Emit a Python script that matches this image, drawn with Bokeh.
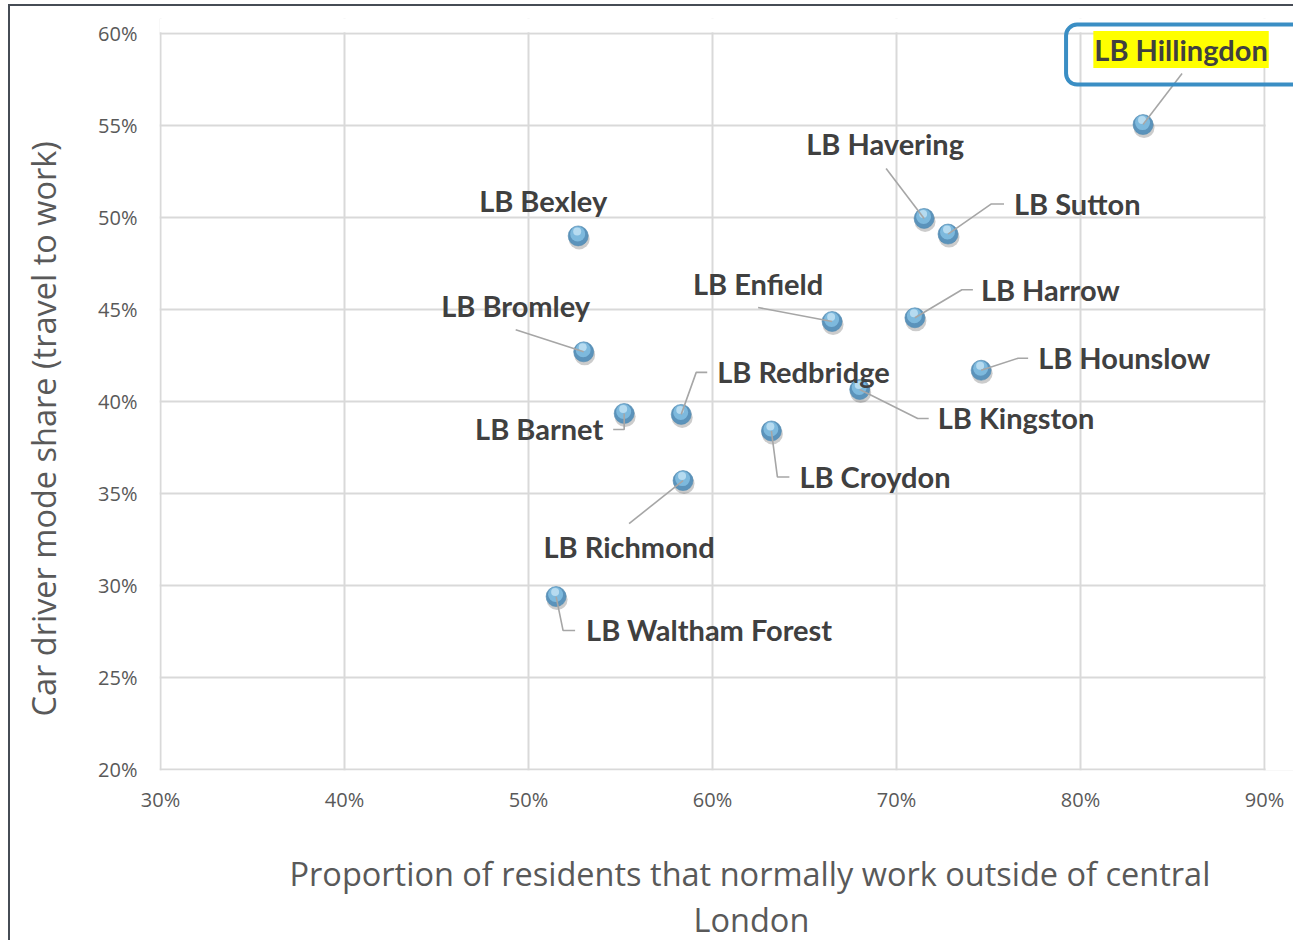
from bokeh.plotting import figure
from bokeh.models import (ColumnDataSource, PrintfTickFormatter, Label, BoxAnnotation,
                          Range1d, Title)
from bokeh.core.properties import value, field
from bokeh.embed import file_html
from bokeh.resources import INLINE

# ---------------- data ----------------
boroughs = ["LB Hillingdon", "LB Havering", "LB Sutton", "LB Bexley", "LB Enfield",
            "LB Harrow", "LB Bromley", "LB Hounslow", "LB Kingston", "LB Barnet",
            "LB Redbridge", "LB Croydon", "LB Richmond", "LB Waltham Forest"]
outside_central = [83.4, 71.5, 72.8, 52.7, 66.5, 71.0, 53.0, 74.6, 68.0, 55.2,
                   58.3, 63.2, 58.4, 51.5]
car_driver_share = [55.05, 49.95, 49.1, 49.0, 44.35, 44.55, 42.7, 41.7, 40.65, 39.35,
                    39.3, 38.4, 35.7, 29.4]
x_ticks = [30, 40, 50, 60, 70, 80, 90]
y_ticks = [20, 25, 30, 35, 40, 45, 50, 55, 60]
x_title_lines = ["Proportion of residents that normally work outside of central", "London"]
y_title = "Car driver mode share (travel to work)"
highlighted = "LB Hillingdon"

# ---------------- label layout (pixel offsets from each point) ----------------
label_layout = {
    "LB Hillingdon":     (38, -73, "center"),
    "LB Havering":       (-39, -73, "center"),
    "LB Sutton":         (66, -29, "left"),
    "LB Bexley":         (-35, -33, "center"),
    "LB Enfield":        (-74, -36, "center"),
    "LB Harrow":         (66, -26, "left"),
    "LB Bromley":        (-68, -44, "center"),
    "LB Hounslow":       (57, -11, "left"),
    "LB Kingston":       (78, 30, "left"),
    "LB Barnet":         (-21, 17, "right"),
    "LB Redbridge":      (36, -41, "left"),
    "LB Croydon":        (28, 48, "left"),
    "LB Richmond":       (-54, 68, "center"),
    "LB Waltham Forest": (30, 35, "left"),
}
LABEL_DY_ADJ = -2
leader_layout = {
    "LB Hillingdon":     [(39, -51), (0, 0)],
    "LB Havering":       [(-38, -50), (0, 0)],
    "LB Sutton":         [(56, -30), (43, -30), (0, 0)],
    "LB Enfield":        [(-74, -14), (0, 0)],
    "LB Harrow":         [(58, -28), (47, -28), (0, 0)],
    "LB Bromley":        [(-68, -22), (0, 0)],
    "LB Hounslow":       [(47, -12), (37, -12), (0, 0)],
    "LB Kingston":       [(69, 29), (58, 29), (0, 0)],
    "LB Barnet":         [(-11, 16), (0, 16), (0, 0)],
    "LB Redbridge":      [(26, -42), (15, -42), (0, 0)],
    "LB Croydon":        [(18, 46), (6, 46), (0, 0)],
    "LB Richmond":       [(-54, 43), (0, 0)],
    "LB Waltham Forest": [(19, 34), (7, 34), (0, 0)],
}

# ---------------- geometry ----------------
PLOT_W, PLOT_H = 1104, 736          # pixel size of the 30-90 x 20-60 area
XA, XB, YA, YB = 30, 90, 20, 60
PX = PLOT_W / (XB - XA)
PY = PLOT_H / (YB - YA)
EXT_L, EXT_R, EXT_T, EXT_B = 1, 31, 15, 1   # frame extends beyond plot area
ML, MT = 149, 12
W, H = ML + EXT_L + PLOT_W + EXT_R, 936
MB = H - MT - EXT_T - PLOT_H - EXT_B
X0, X1 = XA - EXT_L / PX, XB + EXT_R / PX
Y0, Y1 = YA - EXT_B / PY, YB + EXT_T / PY

p = figure(width=W, height=H, x_range=Range1d(X0, X1), y_range=Range1d(Y0, Y1),
           output_backend="svg", toolbar_location=None,
           min_border_left=ML, min_border_right=0, min_border_top=MT, min_border_bottom=MB,
           background_fill_color="white", border_fill_color="white")
p.styles = {"margin-top": "4px", "margin-left": "8px",
            "border-top": "2px solid #464c55", "border-left": "2px solid #464c55"}
p.outline_line_color = None

GRID = "#d9d9d9"
for ax, ticks in ((p.xaxis, x_ticks), (p.yaxis, y_ticks)):
    ax.ticker = ticks
    ax.formatter = PrintfTickFormatter(format="%d%%")
    ax.axis_line_color = None
    ax.major_tick_line_color = None
    ax.minor_tick_line_color = None
    ax.major_tick_out = 0
    ax.major_tick_in = 0
    ax.major_label_text_font = "Open Sans"
    ax.major_label_text_font_size = "20px"
    ax.major_label_text_color = "#595959"
p.xaxis.major_label_standoff = 15
p.yaxis.major_label_standoff = 22
p.xgrid.ticker = x_ticks
p.ygrid.ticker = y_ticks
p.xgrid.grid_line_color = GRID
p.ygrid.grid_line_color = GRID
p.xgrid.grid_line_width = 2
p.ygrid.grid_line_width = 2

# white covers so gridlines stop at the 60% / 90% edges of the plot area
p.add_layout(BoxAnnotation(left=X0, right=X1, bottom=YB + 1.2 / PY, top=Y1,
                           fill_color="white", fill_alpha=1, line_color=None,
                           level="underlay"))
p.add_layout(BoxAnnotation(left=XB + 1.2 / PX, right=X1, bottom=Y0, top=Y1,
                           fill_color="white", fill_alpha=1, line_color=None,
                           level="underlay"))


def dxp(px):
    return px / PX


def dyp(py):
    return -py / PY


# markers (sphere-like)
def shifted(dx, dy):
    return ColumnDataSource(dict(x=[v + dxp(dx) for v in outside_central],
                                 y=[v + dyp(dy) for v in car_driver_share]))


p.scatter("x", "y", source=shifted(1, 3), size=21, fill_color="#000000", fill_alpha=0.2,
          line_color=None)
p.scatter("x", "y", source=ColumnDataSource(dict(x=outside_central, y=car_driver_share)),
          size=20, fill_color="#5b93bb", line_color="#5189b0", line_width=0.6)
p.scatter("x", "y", source=shifted(-0.5, -2), size=15, fill_color="#80bade", fill_alpha=0.95,
          line_color=None)
p.scatter("x", "y", source=shifted(-1, -4.5), size=8, fill_color="#bfe1f3", fill_alpha=0.85,
          line_color=None)

# leader lines
xs, ys = [], []
for name, xv, yv in zip(boroughs, outside_central, car_driver_share):
    if name in leader_layout:
        pts = leader_layout[name]
        xs.append([xv + dxp(a) for a, b in pts])
        ys.append([yv + dyp(b) for a, b in pts])
p.multi_line(xs, ys, line_color="#a6a6a6", line_width=1.6)

# labels
LABEL_FONT = "29px"
lab = dict(x=[], y=[], text=[], dx=[], dy=[], align=[])
hil = None
for name, xv, yv in zip(boroughs, outside_central, car_driver_share):
    dx, dy, al = label_layout[name]
    dy += LABEL_DY_ADJ
    if name == highlighted:
        hil = (xv, yv, dx, dy)
        continue
    lab["x"].append(xv); lab["y"].append(yv); lab["text"].append(name)
    lab["dx"].append(dx); lab["dy"].append(dy); lab["align"].append(al)
p.text(x="x", y="y", text="text", x_offset="dx", y_offset="dy",
       text_align=field("align"), text_baseline="middle",
       source=ColumnDataSource(lab), text_font=value("Lato"),
       text_font_style="bold", text_font_size=value(LABEL_FONT), text_color="#404040")

# highlighted label with box
hx, hy, hdx, hdy = hil
p.add_layout(BoxAnnotation(left=hx + dxp(-77), right=hx + dxp(220), top=hy + dyp(-100),
                           bottom=hy + dyp(-40), fill_alpha=0, line_color="#3a8ec4",
                           line_alpha=1, line_width=4, border_radius=11))
p.add_layout(Label(x=hx, y=hy, x_offset=hdx, y_offset=-hdy, text=highlighted,
                   text_align="center", text_baseline="middle", text_font="Lato",
                   text_font_style="bold", text_font_size=LABEL_FONT, text_color="#404040",
                   background_fill_color="#ffff00", padding=1))

# axis titles (side panels)
TFONT = dict(text_font="Open Sans", text_font_size="32.5px", text_font_style="normal",
             text_color="#595959")
p.add_layout(Title(text=" ", text_font_size="1px", standoff=34), "below")
p.add_layout(Title(text=x_title_lines[0], align="left", offset=130, vertical_align="top",
                   standoff=-4, **TFONT), "below")
p.add_layout(Title(text=x_title_lines[1], align="left", offset=534, vertical_align="middle",
                   standoff=0, **TFONT), "below")
p.add_layout(Title(text=" ", text_font_size="1px", standoff=26), "left")
p.add_layout(Title(text=y_title, align="left", offset=54, vertical_align="middle",
                   standoff=0, **TFONT), "left")

open("out.html", "w").write(file_html(p, INLINE))
